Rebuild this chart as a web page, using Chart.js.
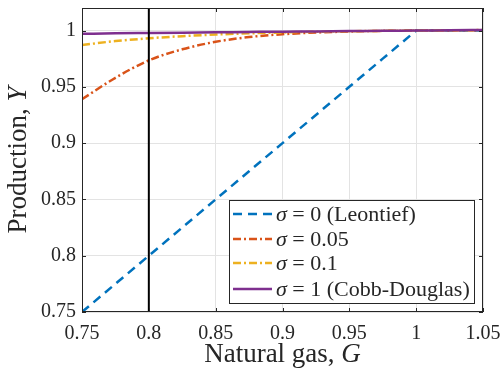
<!DOCTYPE html>
<html>
<head>
<meta charset="utf-8">
<script src="https://cdn.jsdelivr.net/npm/chart.js@4/dist/chart.umd.min.js"></script>
<style>
html,body{margin:0;padding:0;background:#fff;}
#wrap{width:501px;height:369px;}
</style>
</head>
<body>
<div id="wrap"><canvas id="c" width="501" height="369"></canvas></div>
<script>
const gas = [0.75,0.775,0.8,0.825,0.85,0.875,0.9,0.925,0.95,0.975,1.0,1.025,1.05];
const leontief = [0.75,0.775,0.8,0.825,0.85,0.875,0.9,0.925,0.95,0.975,1.0,1.0,1.0];
const sigma005 = [0.939,0.958,0.9735,0.9833,0.990,0.9942,0.9967,0.9982,0.9991,0.9997,1.0,1.0001,1.0003];
const sigma01 = [0.9872,0.9906,0.9931,0.9950,0.9964,0.9975,0.9983,0.9989,0.9994,0.9997,1.0,1.0002,1.0004];
const cobbDouglas = [0.9971,0.9975,0.9978,0.9981,0.9984,0.9987,0.9990,0.9992,0.9995,0.9997,1.0,1.0002,1.0005];
const markerG = 0.8;
const xTicks = [0.75,0.8,0.85,0.9,0.95,1,1.05];
const xTickLabels = ['0.75','0.8','0.85','0.9','0.95','1','1.05'];
const yTicks = [0.75,0.8,0.85,0.9,0.95,1];
const yTickLabels = ['0.75','0.8','0.85','0.9','0.95','1'];
const seriesLabels = ['σ = 0 (Leontief)','σ = 0.05','σ = 0.1','σ = 1 (Cobb-Douglas)'];
const xRange = [0.75,1.05];
const yRange = [0.75,1.02];

const FONT = '"Liberation Serif", "DejaVu Serif", serif';
const AXC = '#262626';
Chart.defaults.font.family = FONT;

function pts(ys){ return gas.map((g,i)=>({x:g,y:ys[i]})); }

const frame = {
  id:'frame',
  afterDraw(chart){
    const {ctx, chartArea:a} = chart;
    const xs = chart.scales.x, ys = chart.scales.y;
    ctx.save();
    ctx.strokeStyle = AXC; ctx.lineWidth = 1;
    ctx.strokeRect(a.left+0.5, a.top+0.5, a.right-a.left-1, a.bottom-a.top-1);
    ctx.beginPath();
    xTicks.forEach(v=>{
      const px = Math.round(xs.getPixelForValue(v))+0.5;
      ctx.moveTo(px,a.bottom); ctx.lineTo(px,a.bottom-4);
      ctx.moveTo(px,a.top); ctx.lineTo(px,a.top+4);
    });
    yTicks.forEach(v=>{
      const py = Math.round(ys.getPixelForValue(v))+0.5;
      ctx.moveTo(a.left,py); ctx.lineTo(a.left+4,py);
      ctx.moveTo(a.right,py); ctx.lineTo(a.right-4,py);
    });
    ctx.stroke();

    ctx.fillStyle = AXC;
    ctx.textBaseline = 'alphabetic';
    function mixed(x, y, parts, center){
      let w = 0;
      parts.forEach(p=>{ ctx.font = p[1]; w += ctx.measureText(p[0]).width; });
      let cx = center ? x - w/2 : x;
      parts.forEach(p=>{ ctx.font = p[1]; ctx.textAlign='left'; ctx.fillText(p[0], cx, y); cx += ctx.measureText(p[0]).width; });
    }
    const cxm = (a.left+a.right)/2;
    mixed(cxm, 362, [['Natural gas, ','27px '+FONT],['G','italic 27px '+FONT]], true);
    ctx.save();
    ctx.translate(26, (a.top+a.bottom)/2);
    ctx.rotate(-Math.PI/2);
    mixed(0, 0, [['Production, ','27px '+FONT],['Y','italic 27px '+FONT]], true);
    ctx.restore();

    const L = {x:229, y:200, w:245, h:103};
    ctx.fillStyle = '#fff';
    ctx.fillRect(L.x, L.y, L.w, L.h);
    ctx.strokeStyle = AXC; ctx.lineWidth = 1;
    ctx.strokeRect(L.x+0.5, L.y+0.5, L.w, L.h);
    const rows = [214, 239, 263, 289];
    chart.data.datasets.slice(0,4).forEach((ds,i)=>{
      ctx.save();
      ctx.strokeStyle = ds.borderColor; ctx.lineWidth = ds.borderWidth;
      ctx.setLineDash(ds.borderDash || []);
      ctx.beginPath(); ctx.moveTo(233, rows[i]); ctx.lineTo(272, rows[i]); ctx.stroke();
      ctx.restore();
      ctx.fillStyle = AXC; ctx.textBaseline = 'middle';
      const lab = ds.label;
      mixed(276, rows[i]+1, [[lab.slice(0,1),'italic 22px '+FONT],[lab.slice(1),'22px '+FONT]], false);
    });
    ctx.restore();
  }
};

function build(){
new Chart(document.getElementById('c'), {
  type:'line',
  data:{
    datasets:[
      {label:seriesLabels[0], data:pts(leontief), borderColor:'#0072BD', borderWidth:2.5, borderDash:[9,6], tension:0, pointRadius:0, order:3},
      {label:seriesLabels[1], data:pts(sigma005), borderColor:'#D95319', borderWidth:2.5, borderDash:[8,3,2,3], cubicInterpolationMode:'monotone', pointRadius:0, order:2},
      {label:seriesLabels[2], data:pts(sigma01), borderColor:'#EDB120', borderWidth:2.5, borderDash:[8,3,2,3], cubicInterpolationMode:'monotone', pointRadius:0, order:1},
      {label:seriesLabels[3], data:pts(cobbDouglas), borderColor:'#7E2F8E', borderWidth:2.5, cubicInterpolationMode:'monotone', pointRadius:0, order:0},
      {label:'G = 0.8', data:[{x:markerG,y:yRange[0]},{x:markerG,y:yRange[1]}], borderColor:'#000', borderWidth:2, pointRadius:0, order:-1}
    ]
  },
  options:{
    responsive:false, animation:false,
    layout:{padding:{top:8, right:18, left:0, bottom:0}},
    plugins:{legend:{display:false}, tooltip:{enabled:false}},
    scales:{
      x:{type:'linear', min:xRange[0], max:xRange[1],
        afterBuildTicks(s){ s.ticks = xTicks.map(v=>({value:v})); },
        afterFit(s){ s.height = 57; s.paddingLeft = 0; s.paddingRight = 0; },
        grid:{color:'#e3e3e3', drawTicks:false},
        border:{display:false},
        ticks:{color:AXC, font:{family:FONT, size:20}, padding:10, maxRotation:0,
          callback:(v)=>{ const i = xTicks.findIndex(t=>Math.abs(t-v)<1e-9); return i>=0?xTickLabels[i]:''; }}
      },
      y:{type:'linear', min:yRange[0], max:yRange[1],
        afterBuildTicks(s){ s.ticks = yTicks.map(v=>({value:v})); },
        afterFit(s){ s.width = 82; s.paddingTop = 0; s.paddingBottom = 0; },
        grid:{color:'#e3e3e3', drawTicks:false},
        border:{display:false},
        ticks:{color:AXC, font:{family:FONT, size:20}, padding:6,
          callback:(v)=>{ const i = yTicks.findIndex(t=>Math.abs(t-v)<1e-9); return i>=0?yTickLabels[i]:''; }}
      }
    }
  },
  plugins:[frame]
});
}
Promise.all([
  document.fonts.load('20px "Liberation Serif"'),
  document.fonts.load('italic 20px "Liberation Serif"')
]).then(build, build);
</script>
</body>
</html>
